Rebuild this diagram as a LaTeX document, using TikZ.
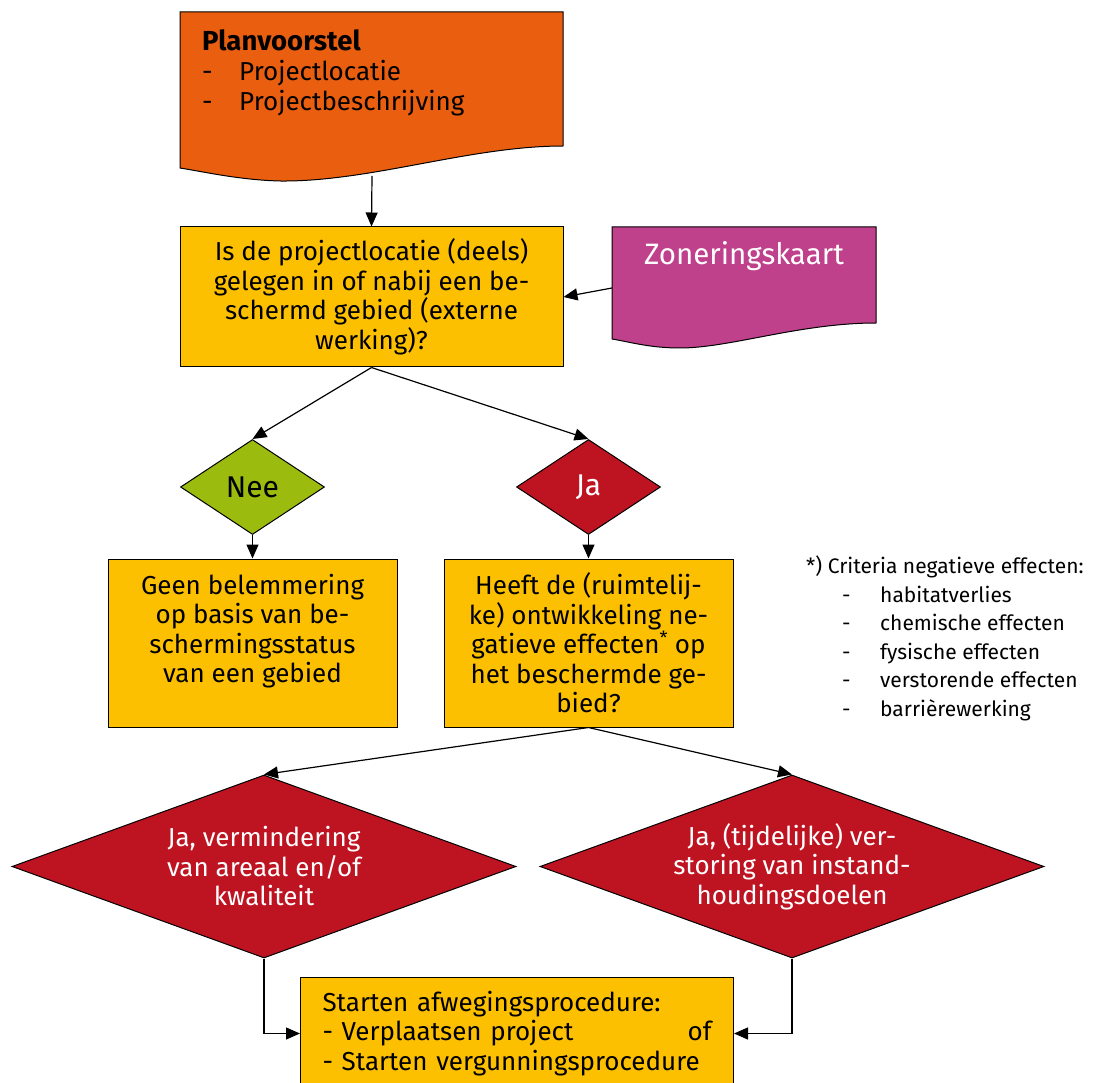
\documentclass[tikz,border=0pt]{standalone}
\usepackage{fontspec}
\setmainfont{Fira Sans}
\usetikzlibrary{shapes.geometric,arrows.meta}

\definecolor{planorange}{RGB}{233,94,15}
\definecolor{boxyellow}{RGB}{252,192,0}
\definecolor{zonmagenta}{RGB}{191,64,139}
\definecolor{neegreen}{RGB}{155,187,14}
\definecolor{jared}{RGB}{190,20,34}

\begin{document}
\begin{tikzpicture}[x=1pt,y=-1pt,
    every node/.style={font=\fontsize{26}{29.5}\selectfont},
    box/.style={draw, fill=boxyellow, line width=1pt, align=center, inner sep=0pt},
    keuze/.style={diamond, draw, line width=1pt, align=center, inner sep=0pt},
    docshape/.style={draw, line width=1pt},
    arr/.style={line width=1.2pt, -{Triangle[length=14pt,width=12pt]}}]
    \useasboundingbox (0,0) rectangle (1096,1083);
    \clip (0,0) rectangle (1096,1083);

    % documents
    \draw[docshape, fill=planorange] (180,12) -- (563,12) -- (563,146)
        .. controls (470,146) and (370,182) .. (280,181)
        .. controls (240,180) and (205,172) .. (180,168) -- cycle;
    \node[align=left, anchor=north west, inner sep=0pt, font=\fontsize{26}{30}\selectfont] (plan) at (202,29)
        {{\fontsize{27.5}{30}\selectfont\textbf{Planvoorstel}}\\\makebox[37pt][l]{-}Projectlocatie\\\makebox[37pt][l]{-}Projectbeschrijving};
    \coordinate (planonder) at (372,176);

    \draw[docshape, fill=zonmagenta] (612,227) -- (876,227) -- (876,323)
        .. controls (800,323) and (730,348) .. (680,348)
        .. controls (650,348) and (630,342) .. (612,339) -- cycle;
    \node[text=white, font=\fontsize{29.5}{30}\selectfont] (zonering) at (744,256) {Zoneringskaart};
    \coordinate (zonlinks) at (612,288);

    % boxes and decisions
    \node[box, minimum width=383, minimum height=140] (vraag) at (371.5,297)
        {Is de projectlocatie (deels)\\gelegen in of nabij een be-\\schermd gebied (externe\\werking)?};
    \node[keuze, aspect=1.5, fill=neegreen, minimum width=144, minimum height=95, font=\fontsize{30}{30}\selectfont] (nee) at (252.5,487) {Nee};
    \node[keuze, aspect=1.5, fill=jared, text=white, minimum width=144, minimum height=95, font=\fontsize{30}{30}\selectfont] (ja) at (588.5,487) {Ja};
    \node[box, minimum width=289, minimum height=168] (geen) at (252.5,643)
        {Geen belemmering\\op basis van be-\\schermingsstatus\\van een gebied\\\mbox{}};
    \node[box, minimum width=289, minimum height=168] (heeft) at (588.5,643)
        {Heeft de (ruimtelij-\\ke) ontwikkeling ne-\\gatieve effecten\textsuperscript{*} op\\het beschermde ge-\\bied?};
    \node[keuze, aspect=2.75, fill=jared, text=white, minimum width=504, minimum height=183] (verm) at (264,866.5)
        {Ja, vermindering\\van areaal en/of\\kwaliteit};
    \node[keuze, aspect=2.75, fill=jared, text=white, minimum width=504, minimum height=183] (stor) at (792,866.5)
        {Ja, (tijdelijke) ver-\\storing van instand-\\houdingsdoelen};
    \node[box, align=left, anchor=north west, minimum width=433, minimum height=112, text width=389] (start) at (300,977)
        {Starten afwegingsprocedure:\\- Verplaatsen project\hfill of\\- Starten vergunningsprocedure};

    % footnote
    \node[align=left, anchor=north west, inner sep=0pt, font=\fontsize{21}{28.5}\selectfont] (criteria) at (806,556)
        {*) Criteria negatieve effecten:\\
        \hspace*{36pt}\makebox[38pt][l]{-}habitatverlies\\
        \hspace*{36pt}\makebox[38pt][l]{-}chemische effecten\\
        \hspace*{36pt}\makebox[38pt][l]{-}fysische effecten\\
        \hspace*{36pt}\makebox[38pt][l]{-}verstorende effecten\\
        \hspace*{36pt}\makebox[38pt][l]{-}barrièrewerking};

    % connectors
    \draw[arr] (planonder) -- (vraag.north);
    \draw[arr] (zonlinks) -- (vraag.east);
    \draw[arr] (vraag.south) -- (nee.north);
    \draw[arr] (vraag.south) -- (ja.north);
    \draw[arr] (nee.south) -- (geen.north);
    \draw[arr] (ja.south) -- (heeft.north);
    \draw[arr] (heeft.south) -- (verm.north);
    \draw[arr] (heeft.south) -- (stor.north);
    \draw[arr] (verm.south) |- (start.west);
    \draw[arr] (stor.south) |- (start.east);
\end{tikzpicture}
\end{document}
